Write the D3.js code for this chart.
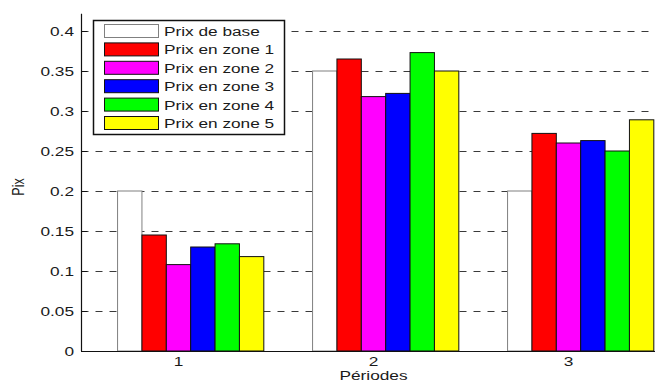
<!DOCTYPE html>
<html>
<head>
<meta charset="utf-8">
<script src="https://cdn.jsdelivr.net/npm/d3@7"></script>
<style>
  html, body { margin: 0; padding: 0; background: #fff; }
  svg { display: block; }
  text { font-family: "Liberation Sans", Arial, sans-serif; fill: #1a1a1a; }
</style>
</head>
<body>
<svg id="chart" width="655" height="386"></svg>
<script>
// Prices per period, one array per price scheme
const periods = [1, 2, 3];
const seriesNames = ["Prix de base", "Prix en zone 1", "Prix en zone 2", "Prix en zone 3", "Prix en zone 4", "Prix en zone 5"];
const prixBase  = [0.200, 0.350, 0.200];
const prixZone1 = [0.145, 0.365, 0.272];
const prixZone2 = [0.108, 0.318, 0.260];
const prixZone3 = [0.130, 0.322, 0.263];
const prixZone4 = [0.134, 0.373, 0.250];
const prixZone5 = [0.118, 0.350, 0.289];
const yTicks = [0, 0.05, 0.1, 0.15, 0.2, 0.25, 0.3, 0.35, 0.4];
const yTickLabels = ["0", "0.05", "0.1", "0.15", "0.2", "0.25", "0.3", "0.35", "0.4"];
const fills = ["#ffffff", "#ff0000", "#ff00ff", "#0000ff", "#00ff00", "#ffff00"];
const edges = ["#808080", "#111111", "#111111", "#111111", "#111111", "#111111"];

const allSeries = [prixBase, prixZone1, prixZone2, prixZone3, prixZone4, prixZone5];

const svg = d3.select("#chart");
const SX = 1.38;          // horizontal glyph stretch of the labels
const FS = 12.5;

const x = d3.scaleLinear().domain([0.5, 3.5]).range([81, 666]);
const y = d3.scaleLinear().domain([0, 0.4]).range([351, 31]);
const yTop = 0.4216;

// seven slots per period; the first one stays empty
const slot = d3.scaleBand().domain(d3.range(7)).range([-0.4375, 0.4375]);

// dashed grid
svg.append("g").selectAll("line")
  .data(yTicks.filter(v => v > 0))
  .join("line")
  .attr("x1", x(0.5) + 0.5).attr("x2", 655)
  .attr("y1", d => Math.round(y(d)) + 0.5).attr("y2", d => Math.round(y(d)) + 0.5)
  .attr("stroke", "#3a3a3a").attr("stroke-width", 1)
  .attr("stroke-dasharray", "7,7");

// bars
const barData = [];
allSeries.forEach((vals, s) => {
  vals.forEach((v, i) => barData.push({ s, p: periods[i], v }));
});
svg.append("g").selectAll("rect")
  .data(barData)
  .join("rect")
  .attr("x", d => x(d.p + slot(d.s + 1)))
  .attr("width", d => x(d.p + slot(d.s + 1) + slot.bandwidth()) - x(d.p + slot(d.s + 1)))
  .attr("y", d => y(d.v))
  .attr("height", d => y(0) - y(d.v))
  .attr("fill", d => fills[d.s])
  .attr("stroke", d => edges[d.s])
  .attr("stroke-width", 1);

// axes
const axisG = svg.append("g");
axisG.append("line")
  .attr("x1", x(0.5) + 0.5).attr("x2", x(0.5) + 0.5)
  .attr("y1", y(0)).attr("y2", y(yTop))
  .attr("stroke", "#111").attr("stroke-width", 1.2);
axisG.append("line")
  .attr("x1", x(0.5)).attr("x2", 655)
  .attr("y1", y(0) + 0.5).attr("y2", y(0) + 0.5)
  .attr("stroke", "#111").attr("stroke-width", 1.2);

// inward y ticks and their labels
axisG.selectAll("line.ytick")
  .data(yTicks)
  .join("line").attr("class", "ytick")
  .attr("x1", x(0.5)).attr("x2", x(0.5) + 6)
  .attr("y1", d => Math.round(y(d)) + 0.5).attr("y2", d => Math.round(y(d)) + 0.5)
  .attr("stroke", "#111");
axisG.selectAll("text.ylab")
  .data(yTicks)
  .join("text").attr("class", "ylab")
  .attr("transform", d => `translate(${x(0.5) - 7},${y(d)}) scale(${SX},1)`)
  .attr("text-anchor", "end")
  .attr("dy", "0.36em")
  .attr("font-size", FS)
  .text((d, i) => yTickLabels[i]);

// period labels
axisG.selectAll("text.xlab")
  .data(periods)
  .join("text").attr("class", "xlab")
  .attr("transform", d => `translate(${x(d)},${y(0) + 15}) scale(${SX},1)`)
  .attr("text-anchor", "middle")
  .attr("font-size", FS)
  .text(d => d);

// axis titles
svg.append("text")
  .attr("transform", `translate(${x(2)},380) scale(${SX},1)`)
  .attr("text-anchor", "middle")
  .attr("font-size", FS)
  .text("Périodes");
svg.append("text")
  .attr("transform", `translate(24,187) scale(${SX},1) rotate(-90)`)
  .attr("text-anchor", "middle")
  .attr("font-size", FS)
  .text("Pix");

// legend
const leg = svg.append("g");
leg.append("rect")
  .attr("x", 93.5).attr("y", 20.5).attr("width", 191).attr("height", 114)
  .attr("fill", "#fff").attr("stroke", "#111").attr("stroke-width", 1.5);
const rows = leg.selectAll("g.row")
  .data(seriesNames)
  .join("g").attr("class", "row")
  .attr("transform", (d, i) => `translate(0,${24 + i * 18.4})`);
rows.append("rect")
  .attr("x", 104.5).attr("y", 0.5).attr("width", 54).attr("height", 13)
  .attr("fill", (d, i) => fills[i])
  .attr("stroke", (d, i) => edges[i]).attr("stroke-width", 1);
rows.append("text")
  .attr("transform", `translate(164,12) scale(${SX},1)`)
  .attr("font-size", FS)
  .text(d => d);
</script>
</body>
</html>
